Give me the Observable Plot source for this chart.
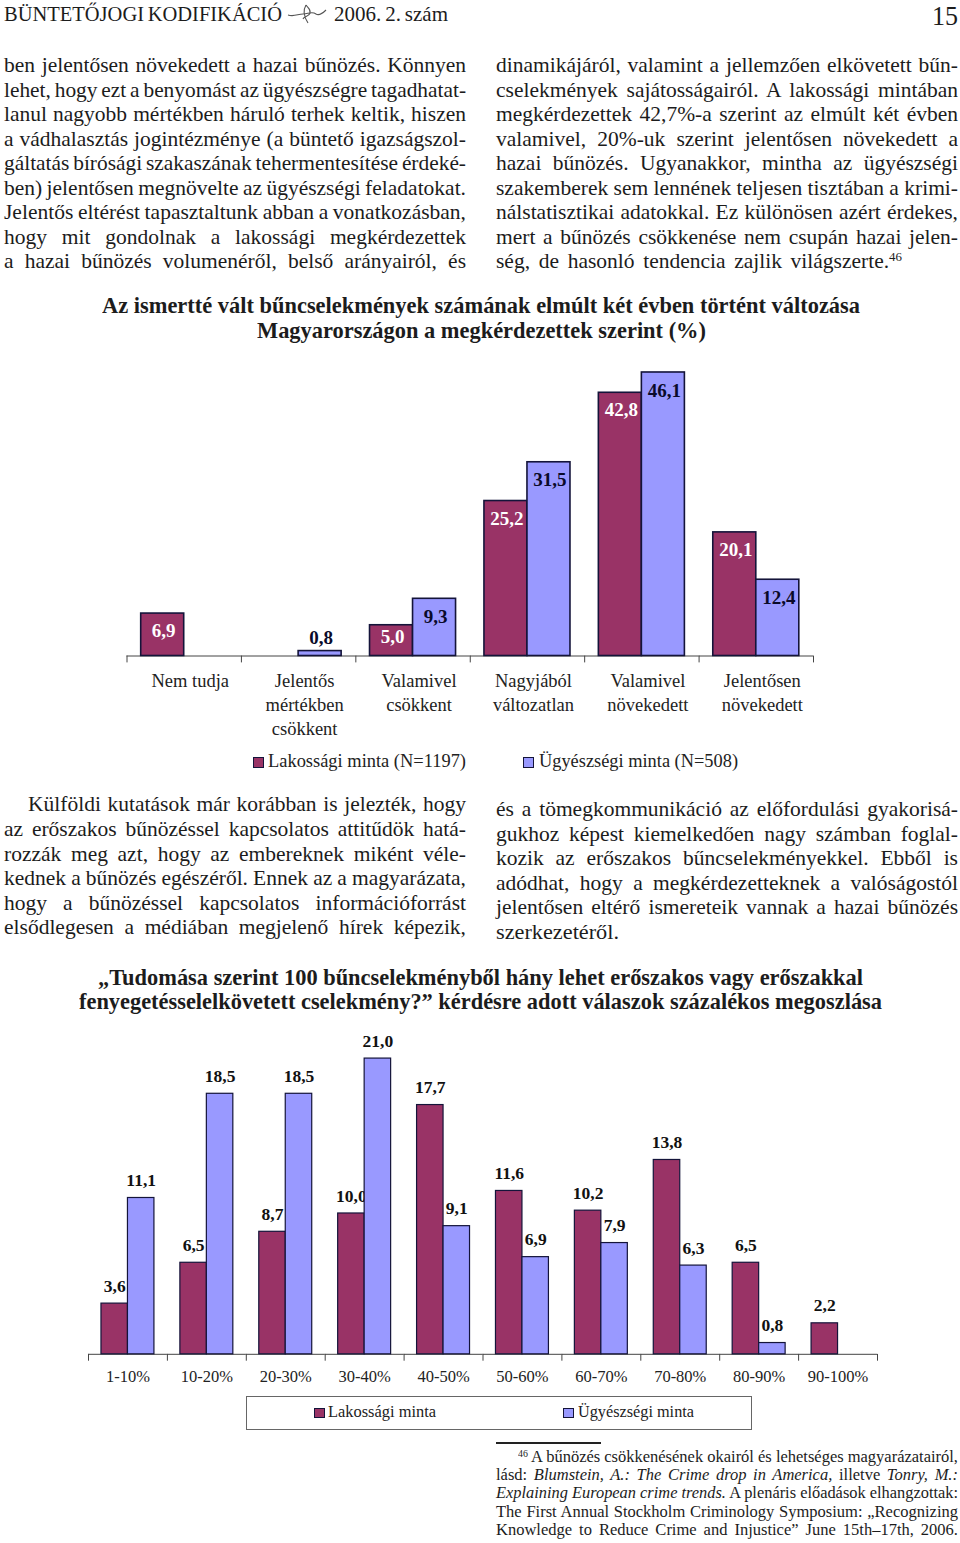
<!DOCTYPE html>
<html lang="hu"><head><meta charset="utf-8">
<script src="https://cdn.jsdelivr.net/npm/d3@7"></script>
<script src="https://cdn.jsdelivr.net/npm/@observablehq/plot@0.6"></script>
<style>
html,body{margin:0;padding:0;background:#fff}
#page{position:relative;width:960px;height:1543px;overflow:hidden;background:#fff;font-family:"Liberation Serif",serif;color:#1c1c1c}
.ln{position:absolute;white-space:pre;line-height:24px;transform-origin:0 50%}
.ln sup{font-size:.6em;line-height:0;vertical-align:.55em}
#page svg{position:absolute}
</style></head><body><div id="page"></div>
<script>
// ---- chart 1 data
const cats1 = ["Nem tudja","Jelentős\nmértékben\ncsökkent","Valamivel\ncsökkent","Nagyjából\nváltozatlan","Valamivel\nnövekedett","Jelentősen\nnövekedett"];
const lakossagi1 = [6.9,null,5.0,25.2,42.8,20.1];
const ugyeszsegi1 = [null,0.8,9.3,31.5,46.1,12.4];
// ---- chart 2 data
const cats2 = ["1-10%","10-20%","20-30%","30-40%","40-50%","50-60%","60-70%","70-80%","80-90%","90-100%"];
const lakossagi2 = [3.6,6.5,8.7,10.0,17.7,11.6,10.2,13.8,6.5,2.2];
const ugyeszsegi2 = [11.1,18.5,18.5,21.0,9.1,6.9,7.9,6.3,0.8,null];
const seriesKeys = ["L","U"];
const maroon = "#993366", blue = "#9999ff", edge = "#14143a";

// ---- running text
const leftTop = ["ben jelentősen növekedett a hazai bűnözés. Könnyen","lehet, hogy ezt a benyomást az ügyészségre tagadhatat-","lanul nagyobb mértékben háruló terhek keltik, hiszen","a vádhalasztás jogintézménye (a büntető igazságszol-","gáltatás bírósági szakaszának tehermentesítése érdeké-","ben) jelentősen megnövelte az ügyészségi feladatokat.","Jelentős eltérést tapasztaltunk abban a vonatkozásban,","hogy mit gondolnak a lakossági megkérdezettek","a hazai bűnözés volumenéről, belső arányairól, és"];
const rightTop = ["dinamikájáról, valamint a jellemzően elkövetett bűn-","cselekmények sajátosságairól. A lakossági mintában","megkérdezettek 42,7%-a szerint az elmúlt két évben","valamivel, 20%-uk szerint jelentősen növekedett a","hazai bűnözés. Ugyanakkor, mintha az ügyészségi","szakemberek sem lennének teljesen tisztában a krimi-","nálstatisztikai adatokkal. Ez különösen azért érdekes,","mert a bűnözés csökkenése nem csupán hazai jelen-"];
const leftBottom = ["az erőszakos bűnözéssel kapcsolatos attitűdök hatá-","rozzák meg azt, hogy az embereknek miként véle-","kednek a bűnözés egészéről. Ennek az a magyarázata,","hogy a bűnözéssel kapcsolatos információforrást","elsődlegesen a médiában megjelenő hírek képezik,"];
const rightBottom = ["és a tömegkommunikáció az előfordulási gyakorisá-","gukhoz képest kiemelkedően nagy számban foglal-","kozik az erőszakos bűncselekményekkel. Ebből is","adódhat, hogy a megkérdezetteknek a valóságostól","jelentősen eltérő ismereteik vannak a hazai bűnözés"];
const footnote = ["lásd: <i>Blumstein, A.: The Crime drop in America,</i> illetve <i>Tonry, M.:</i>","<i>Explaining European crime trends.</i> A plenáris előadások elhangzottak:","The First Annual Stockholm Criminology Symposium: „Recognizing","Knowledge to Reduce Crime and Injustice” June 15th–17th, 2006."];

const page = document.getElementById("page");
function put(html, x0, x1, cy, o = {}) {
  const el = document.createElement("div");
  el.className = "ln";
  el.innerHTML = html;
  el.style.left = x0 + "px";
  el.style.top = (cy - 12) + "px";
  el.style.fontSize = (o.size || 21.5) + "px";
  if (o.weight) el.style.fontWeight = o.weight;
  if (o.color) el.style.color = o.color;
  page.appendChild(el);
  const target = x1 - x0;
  const w = el.getBoundingClientRect().width;
  const n = (el.textContent.match(/ /g) || []).length;
  let ws = n ? (target - w) / n : 0;
  ws = Math.max(ws, o.minWs ?? -1.5);
  el.style.wordSpacing = ws + "px";
  const w2 = el.getBoundingClientRect().width;
  el.style.transform = `scaleX(${target / w2})`;
  return el;
}
function swatch(x, y, w, h, c) {
  const s = document.createElement("div");
  s.style.cssText = `position:absolute;left:${x}px;top:${y}px;width:${w}px;height:${h}px;background:${c};border:1px solid ${edge};box-sizing:border-box`;
  page.appendChild(s);
}

// header
put("BÜNTETŐJOGI KODIFIKÁCIÓ", 4, 282, 14, {size: 21});
put("2006. 2. szám", 334, 448, 14, {size: 21});
put("15", 932, 958, 15.5, {size: 27.5});
page.insertAdjacentHTML("beforeend", `<svg style="left:286px;top:2px" width="42" height="24" viewBox="0 0 42 24" fill="none" stroke="#555" stroke-width="1.1"><path d="M2 13C8 15 12 12 17 12C22 12 26 9 30 12C33 14 36 12 40 8"/><path d="M20 3C17 8 18 15 22 21M20 3C22 6 25 7 24 11C23 15 18 14 17 17"/></svg>`);

// text blocks
leftTop.forEach((t, i) => put(t, 4, 466, 65 + i * 24.5));
rightTop.forEach((t, i) => put(t, 496, 958, 65 + i * 24.5));
put("ség, de hasonló tendencia zajlik világszerte.<sup>46</sup>", 496, 902, 261);
put("Külföldi kutatások már korábban is jelezték, hogy", 28, 466, 804);
leftBottom.forEach((t, i) => put(t, 4, 466, 829 + i * 24.5));
rightBottom.forEach((t, i) => put(t, 496, 958, 809 + i * 24.5));
put("szerkezetéről.", 496, 619, 932);

// chart titles
const titleStyle = {size: 23, weight: 700, minWs: 0};
put("Az ismertté vált bűncselekmények számának elmúlt két évben történt változása", 102, 860, 306, titleStyle);
put("Magyarországon a megkérdezettek szerint (%)", 257, 706, 331, titleStyle);
put("„Tudomása szerint 100 bűncselekményből hány lehet erőszakos vagy erőszakkal", 98, 863, 978, titleStyle);
put("fenyegetésselelkövetett cselekmény?” kérdésre adott válaszok százalékos megoszlása", 79, 882, 1002, titleStyle);

// footnote
const fnRule = document.createElement("div");
fnRule.style.cssText = "position:absolute;left:496px;top:1442px;width:105px;height:1.5px;background:#222";
page.appendChild(fnRule);
put("<sup>46</sup> A bűnözés csökkenésének okairól és lehetséges magyarázatairól,", 518, 958, 1457, {size: 16.5, minWs: 0});
footnote.forEach((t, i) => put(t, 496, 958, 1475 + i * 18.4, {size: 16.5, minWs: 0}));

// ---- charts
const comma = d => d.toFixed(1).replace(".", ",");
function rows(cats, a, b) {
  const out = [];
  cats.forEach((c, i) => {
    if (a[i] != null) out.push({cat: c, s: "L", v: a[i]});
    if (b[i] != null) out.push({cat: c, s: "U", v: b[i]});
  });
  return out;
}
const tick = {draw(ctx, l) { ctx.moveTo(0, 0); ctx.lineTo(0, -l); }};
function ticks(cats) {
  const o = {frameAnchor: "bottom-left", length: 6, rotate: 180, anchor: "start", shape: tick, stroke: "#444", strokeWidth: 1};
  return [
    Plot.vector(cats, {...o, fx: d => d}),
    Plot.vector(cats.slice(-1), {...o, fx: d => d, frameAnchor: "bottom-right"})
  ];
}

// chart 1
const data1 = rows(cats1, lakossagi1, ugyeszsegi1);
const bar1 = s => Plot.barY(data1.filter(d => d.s === s), {fx: "cat", x: "s", y: "v", fill: s === "L" ? maroon : blue, stroke: edge, strokeWidth: 1.6});
const lab1 = (f, dy, color) => Plot.text(data1.filter(f), {fx: "cat", x: "s", y: "v", text: d => comma(d.v), dy, dx: 1, fill: color, fontWeight: 700, fontSize: 19, lineAnchor: "middle"});
const svg1 = Plot.plot({
  width: 960, height: 405,
  marginTop: 8, marginBottom: 89.5, marginLeft: 126.5, marginRight: 147,
  style: {fontFamily: "Liberation Serif", background: "transparent", overflow: "visible"},
  fx: {domain: cats1, padding: 0, round: false, axis: null},
  x: {domain: seriesKeys, paddingInner: 0, paddingOuter: 0.33, round: false, axis: null},
  y: {domain: [0, 50], axis: null},
  marks: [
    Plot.ruleY([0], {stroke: "#444", strokeWidth: 1}),
    ...ticks(cats1),
    bar1("L"), bar1("U"),
    lab1(d => d.s === "L" && d.v > 5, 17.5, "#fff"),
    lab1(d => d.s === "L" && d.v === 5, 12, "#fff"),
    lab1(d => d.s === "U" && d.v > 1, 18, "#0a0a2a"),
    lab1(d => d.s === "U" && d.v <= 1, -13.5, "#0a0a2a"),
    Plot.axisFx({anchor: "bottom", label: null, tickSize: 0, tickPadding: 14, fontSize: 18.5, lineHeight: 1.3, dx: 6, fill: "#222", tickFormat: d => d, textOverflow: null})
  ]
});
svg1.style.left = "0px"; svg1.style.top = "340px";
page.appendChild(svg1);
swatch(252.5, 756.5, 11, 11, maroon);
put("Lakossági minta (N=1197)", 268, 466, 761, {size: 19, color: "#222", minWs: 0});
swatch(523, 756.5, 11, 11, blue);
put("Ügyészségi minta (N=508)", 539, 738, 761, {size: 19, color: "#222", minWs: 0});

// chart 2
const data2 = rows(cats2, lakossagi2, ugyeszsegi2);
const bar2 = s => Plot.barY(data2.filter(d => d.s === s), {fx: "cat", x: "s", y: "v", fill: s === "L" ? maroon : blue, stroke: edge, strokeWidth: 1.2});
const lab2 = s => Plot.text(data2.filter(d => d.s === s), {fx: "cat", x: "s", y: "v", text: d => comma(d.v), dy: -17.5, fill: "#111", fontWeight: 700, fontSize: 17.5, lineAnchor: "middle"});
const svg2 = Plot.plot({
  width: 960, height: 366.5,
  marginTop: 20, marginBottom: 36.7, marginLeft: 88, marginRight: 83,
  style: {fontFamily: "Liberation Serif", background: "transparent", overflow: "visible"},
  fx: {domain: cats2, padding: 0, round: false, axis: null},
  x: {domain: seriesKeys, paddingInner: 0, paddingOuter: 0.49, round: false, axis: null},
  y: {domain: [0, 22], axis: null},
  marks: [
    Plot.ruleY([0], {stroke: "#444", strokeWidth: 1}),
    ...ticks(cats2),
    bar2("L"), lab2("L"),
    bar2("U"), lab2("U"),
    Plot.axisFx({anchor: "bottom", label: null, tickSize: 0, tickPadding: 16, fontSize: 16.5, fill: "#222", tickFormat: d => d, textOverflow: null})
  ]
});
svg2.style.left = "0px"; svg2.style.top = "1023.5px";
page.appendChild(svg2);
const box = document.createElement("div");
box.style.cssText = "position:absolute;left:245.5px;top:1395.5px;width:506px;height:34px;border:1px solid #666;box-sizing:border-box";
page.appendChild(box);
swatch(314, 1407.5, 10.5, 10.5, maroon);
put("Lakossági minta", 328, 436, 1412, {size: 17, color: "#222", minWs: 0});
swatch(563, 1407.5, 10.5, 10.5, blue);
put("Ügyészségi minta", 578, 694, 1412, {size: 17, color: "#222", minWs: 0});
</script></body></html>
